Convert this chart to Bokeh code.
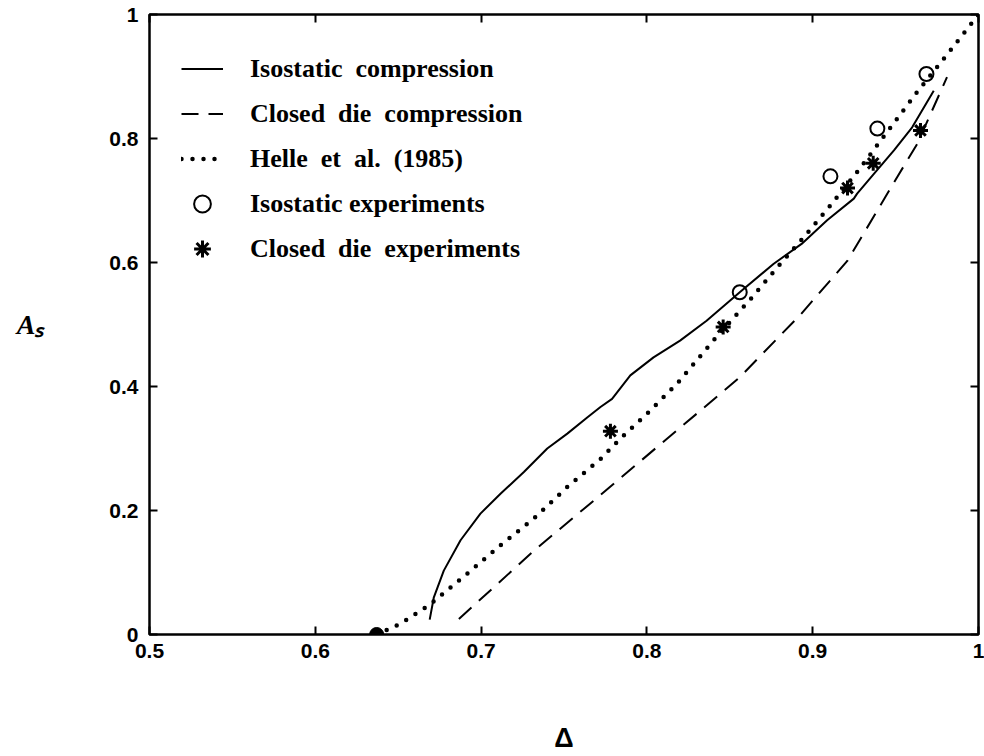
from bokeh.plotting import figure
from bokeh.models import Range1d, FixedTicker, LinearAxis, Legend, LegendItem
from bokeh.embed import file_html
from bokeh.resources import INLINE

# Isostatic compression (model)
iso_x = [0.669, 0.6715, 0.6775, 0.6876, 0.6996, 0.7117, 0.7258, 0.7399, 0.752, 0.764, 0.772,
         0.779, 0.790, 0.804, 0.820, 0.836, 0.856, 0.8765, 0.8933, 0.9087, 0.9248, 0.9268,
         0.9369, 0.949, 0.960, 0.973]
iso_y = [0.024, 0.060, 0.103, 0.152, 0.195, 0.227, 0.262, 0.300, 0.324, 0.350, 0.367,
         0.380, 0.418, 0.447, 0.474, 0.506, 0.552, 0.598, 0.630, 0.668, 0.703, 0.711,
         0.743, 0.781, 0.818, 0.877]

# Closed die compression (model)
cd_x = [0.6866, 0.7318, 0.780, 0.806, 0.830, 0.856, 0.893, 0.921, 0.939, 0.951, 0.963, 0.981]
cd_y = [0.025, 0.135, 0.243, 0.302, 0.356, 0.415, 0.517, 0.603, 0.684, 0.738, 0.791, 0.899]

# Helle et al. (1985)
helle_x = [0.637, 0.651, 0.669, 0.6916, 0.7117, 0.7318, 0.752, 0.772, 0.784, 0.800, 0.818,
           0.842, 0.8625, 0.8786, 0.8947, 0.9107, 0.9268, 0.947, 0.963, 0.983, 1.0]
helle_y = [0.0, 0.017, 0.048, 0.098, 0.144, 0.187, 0.238, 0.283, 0.316, 0.356, 0.404,
           0.480, 0.541, 0.592, 0.641, 0.692, 0.746, 0.818, 0.875, 0.942, 1.0]

# Experiments
iso_exp_x = [0.856, 0.9107, 0.939, 0.9686]
iso_exp_y = [0.552, 0.739, 0.816, 0.904]
cd_exp_x = [0.778, 0.846, 0.921, 0.9365, 0.965]
cd_exp_y = [0.328, 0.496, 0.720, 0.760, 0.813]
start_x = [0.637]
start_y = [0.0]

x_ticks = [0.5, 0.6, 0.7, 0.8, 0.9, 1.0]
x_tick_labels = ["0.5", "0.6", "0.7", "0.8", "0.9", "1"]
y_ticks = [0.0, 0.2, 0.4, 0.6, 0.8, 1.0]
y_tick_labels = ["0", "0.2", "0.4", "0.6", "0.8", "1"]

p = figure(width=984, height=756, output_backend="svg", toolbar_location=None,
           x_range=Range1d(0.5, 1.0), y_range=Range1d(0.0, 1.0),
           min_border_left=149, min_border_right=6, min_border_top=14, min_border_bottom=122)
p.grid.visible = False
p.background_fill_color = "white"
p.border_fill_color = "white"
p.outline_line_color = "black"
p.outline_line_width = 2.5

tick_font = "Liberation Sans"


def style_axis(ax, ticks, labels, show_labels):
    ax.ticker = FixedTicker(ticks=ticks)
    ax.major_label_overrides = {t: (l if show_labels else "") for t, l in zip(ticks, labels)}
    ax.axis_line_color = None
    ax.major_tick_in = 8
    ax.major_tick_out = 0
    ax.major_tick_line_width = 2
    ax.major_tick_line_color = "black"
    ax.minor_tick_line_color = None
    ax.major_label_text_font = tick_font
    ax.major_label_text_font_style = "bold"
    ax.major_label_text_font_size = "21px" if show_labels else "0px"
    ax.major_label_text_color = "black"
    ax.major_label_standoff = 9 if show_labels else 0


bottom_ax = p.xaxis[0]
left_ax = p.yaxis[0]
style_axis(bottom_ax, x_ticks, x_tick_labels, True)
style_axis(left_ax, y_ticks, y_tick_labels, True)
left_ax.major_label_standoff = 11

bottom_ax.axis_label = "Δ"
bottom_ax.axis_label_text_font = "Liberation Sans"
bottom_ax.axis_label_text_font_style = "bold"
bottom_ax.axis_label_text_font_size = "27px"
bottom_ax.axis_label_text_color = "black"
bottom_ax.axis_label_standoff = 62

left_ax.axis_label = "Aₛ"
left_ax.axis_label_orientation = "horizontal"
left_ax.axis_label_text_font = "Liberation Serif"
left_ax.axis_label_text_font_style = "bold italic"
left_ax.axis_label_text_font_size = "28px"
left_ax.axis_label_text_color = "black"
left_ax.axis_label_standoff = 62

top_ax = LinearAxis()
right_ax = LinearAxis()
style_axis(top_ax, x_ticks, x_tick_labels, False)
style_axis(right_ax, y_ticks, y_tick_labels, False)
p.add_layout(top_ax, "above")
p.add_layout(right_ax, "right")

r_iso = p.line(iso_x, iso_y, line_color="black", line_width=2)
r_cd = p.line(cd_x, cd_y, line_color="black", line_width=2, line_dash="17 10")
r_helle = p.line(helle_x, helle_y, line_color="black", line_width=4.5, line_dash="0 11",
                 line_cap="round")
r_iso_exp = p.scatter(iso_exp_x, iso_exp_y, marker="circle", size=14, fill_color=None,
                      line_color="black", line_width=2)
r_cd_exp = p.scatter(cd_exp_x, cd_exp_y, marker="asterisk", size=15, line_color="black",
                     line_width=3)
p.scatter(start_x, start_y, marker="circle", size=14, fill_color="black", line_color="black")

legend = Legend(items=[
    LegendItem(label="Isostatic  compression", renderers=[r_iso]),
    LegendItem(label="Closed  die  compression", renderers=[r_cd]),
    LegendItem(label="Helle  et  al.  (1985)", renderers=[r_helle]),
    LegendItem(label="Isostatic experiments", renderers=[r_iso_exp]),
    LegendItem(label="Closed  die  experiments", renderers=[r_cd_exp]),
], location="top_left")
legend.margin = 32
legend.padding = 25
legend.border_line_color = None
legend.background_fill_alpha = 0
legend.glyph_width = 42
legend.glyph_height = 45
legend.spacing = 0
legend.label_standoff = 27
legend.label_text_font = "Liberation Serif"
legend.label_text_font_style = "bold"
legend.label_text_font_size = "26px"
legend.label_text_color = "black"
p.add_layout(legend)

open("out.html", "w").write(file_html(p, INLINE))
